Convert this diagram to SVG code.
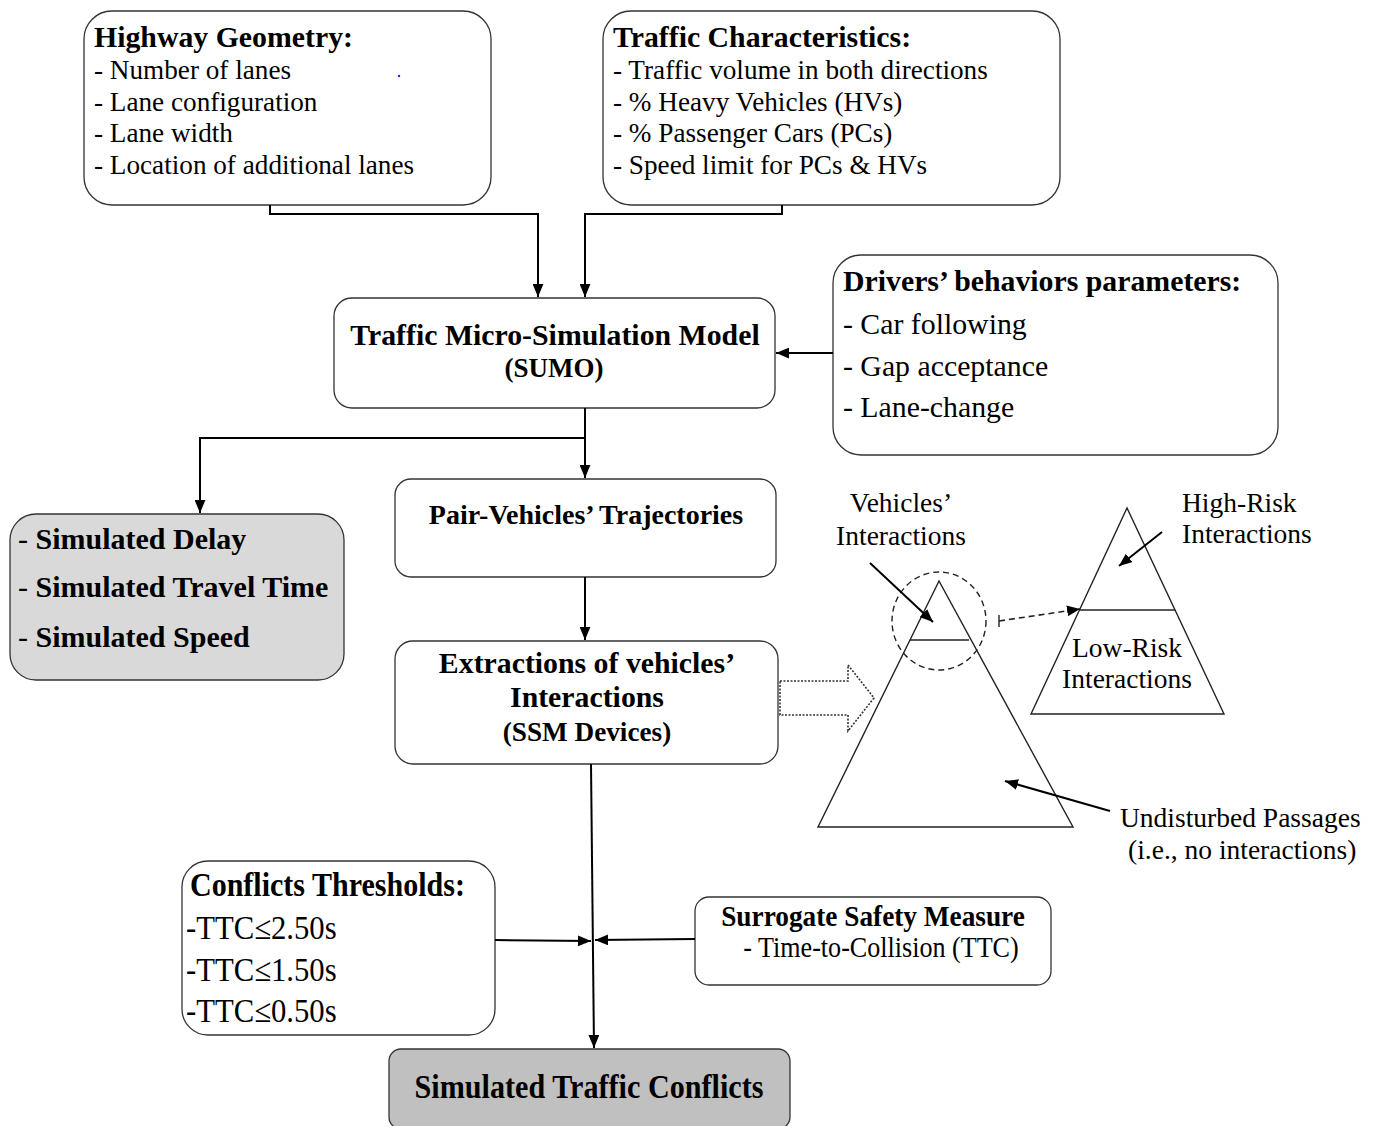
<svg xmlns="http://www.w3.org/2000/svg" width="1375" height="1126" viewBox="0 0 1375 1126">
<style>
text{font-family:"Liberation Serif","Times New Roman",serif;fill:#000}
.b{font-weight:bold}
.box{fill:#fff;stroke:#333;stroke-width:1.3}
.ln{fill:none;stroke:#000;stroke-width:2}
.tl{fill:none;stroke:#222;stroke-width:1.4}
.c{text-anchor:middle}
.lb{font-size:27.5px}
</style>
<defs>
<marker id="ah2" viewBox="0 0 12 10" refX="12" refY="5" markerWidth="13" markerHeight="11" markerUnits="userSpaceOnUse" orient="auto">
<path d="M0,0 L12,5 L0,10 z" fill="#000"/>
</marker>
</defs>

<g id="highway">
<rect class="box" x="84" y="11" width="407" height="194" rx="28"/>
<text class="b" x="94" y="47" font-size="29.8">Highway Geometry:</text>
<text x="94" y="79" font-size="27.2">- Number of lanes</text>
<text x="94" y="111" font-size="27.2">- Lane configuration</text>
<text x="94" y="142" font-size="27.2">- Lane width</text>
<text x="94" y="174" font-size="27.2">- Location of additional lanes</text>
<circle cx="399" cy="76" r="1.2" fill="#2020ff"/>
</g>

<g id="traffic">
<rect class="box" x="603" y="11" width="457" height="194" rx="28"/>
<text class="b" x="613" y="47" font-size="29.8">Traffic Characteristics:</text>
<text x="613" y="79" font-size="27.2">- Traffic volume in both directions</text>
<text x="613" y="111" font-size="27.2">- % Heavy Vehicles (HVs)</text>
<text x="613" y="142" font-size="27.2">- % Passenger Cars (PCs)</text>
<text x="613" y="174" font-size="27.2">- Speed limit for PCs &amp; HVs</text>
</g>

<g id="sumo">
<rect class="box" x="334" y="298" width="441" height="110" rx="18"/>
<text class="b c" x="555" y="345" font-size="29.8">Traffic Micro-Simulation Model</text>
<text class="b c" x="554" y="377" font-size="27">(SUMO)</text>
</g>

<g id="drivers">
<rect class="box" x="833" y="255" width="445" height="200" rx="28"/>
<text class="b" x="843" y="291" font-size="29.8">Drivers’ behaviors parameters:</text>
<text x="843" y="334" font-size="29.8">- Car following</text>
<text x="843" y="376" font-size="29.8">- Gap acceptance</text>
<text x="843" y="417" font-size="29.8">- Lane-change</text>
</g>

<g id="outputs">
<rect x="10" y="514" width="334" height="166" rx="26" fill="#d9d9d9" stroke="#333" stroke-width="1.3"/>
<text x="18" y="549" font-size="30"><tspan>- </tspan><tspan class="b">Simulated Delay</tspan></text>
<text x="18" y="597" font-size="30"><tspan>- </tspan><tspan class="b">Simulated Travel Time</tspan></text>
<text x="18" y="647" font-size="30"><tspan>- </tspan><tspan class="b">Simulated Speed</tspan></text>
</g>

<g id="pair">
<rect class="box" x="395" y="479" width="381" height="98" rx="16"/>
<text class="b c" x="586" y="524" font-size="28">Pair-Vehicles’ Trajectories</text>
</g>

<g id="extract">
<rect class="box" x="395" y="641" width="383" height="123" rx="18"/>
<text class="b c" x="587" y="673" font-size="29.8">Extractions of vehicles’</text>
<text class="b c" x="587" y="707" font-size="29.8">Interactions</text>
<text class="b c" x="587" y="741" font-size="27.2">(SSM Devices)</text>
</g>

<g id="thresholds">
<rect class="box" x="182" y="861" width="313" height="174" rx="26"/>
<text class="b" transform="translate(190,896) scale(0.91,1)" font-size="33">Conflicts Thresholds:</text>
<text transform="translate(186,939) scale(0.93,1)" font-size="33">-TTC≤2.50s</text>
<text transform="translate(186,981) scale(0.93,1)" font-size="33">-TTC≤1.50s</text>
<text transform="translate(186,1022) scale(0.93,1)" font-size="33">-TTC≤0.50s</text>
</g>

<g id="ssm">
<rect class="box" x="695" y="897" width="356" height="88" rx="14"/>
<text class="b c" transform="translate(873,926) scale(0.91,1)" font-size="30">Surrogate Safety Measure</text>
<text class="c" transform="translate(881,957) scale(0.9,1)" font-size="29">- Time-to-Collision (TTC)</text>
</g>

<g id="conflicts">
<rect x="389" y="1049" width="401" height="80" rx="12" fill="#c0c0c0" stroke="#333" stroke-width="1.3"/>
<text class="b c" transform="translate(589,1098) scale(0.9,1)" font-size="33.5">Simulated Traffic Conflicts</text>
</g>

<g id="pyramid">
<polygon class="tl" points="939,581 818,827 1073,827"/>
<line class="tl" x1="910" y1="640" x2="969" y2="640"/>
<ellipse cx="939" cy="621" rx="47" ry="49" fill="none" stroke="#222" stroke-width="1.4" stroke-dasharray="6,4"/>
<polygon class="tl" points="1127,508 1031,714 1224,714"/>
<line class="tl" x1="1079" y1="610" x2="1175" y2="610"/>
<text class="c lb" x="901" y="512">Vehicles’</text>
<text class="c lb" x="901" y="545">Interactions</text>
<text class="lb" x="1182" y="512">High-Risk</text>
<text class="lb" x="1182" y="543">Interactions</text>
<text class="c lb" x="1127" y="657">Low-Risk</text>
<text class="c lb" x="1127" y="688">Interactions</text>
<text class="lb" x="1120" y="827">Undisturbed Passages</text>
<text class="lb" x="1128" y="859">(i.e., no interactions)</text>
<polygon points="780,681 848,681 848,665 874,698 848,731 848,715 780,715" fill="none" stroke="#333" stroke-width="1.6" stroke-dasharray="2,1.5"/>
</g>

<g id="connectors">
<polyline class="ln" points="270,205 270,214 538,214 538,297" marker-end="url(#ah2)"/>
<polyline class="ln" points="782,205 782,214 585,214 585,297" marker-end="url(#ah2)"/>
<line class="ln" x1="833" y1="353" x2="776" y2="353" marker-end="url(#ah2)"/>
<polyline class="ln" points="585,408 585,438 200,438 200,513" marker-end="url(#ah2)"/>
<line class="ln" x1="585" y1="438" x2="585" y2="478" marker-end="url(#ah2)"/>
<line class="ln" x1="585" y1="577" x2="585" y2="640" marker-end="url(#ah2)"/>
<line class="ln" x1="591" y1="764" x2="594" y2="1048" marker-end="url(#ah2)"/>
<line class="ln" x1="495" y1="940" x2="591" y2="941" marker-end="url(#ah2)"/>
<line class="ln" x1="695" y1="939" x2="595" y2="940" marker-end="url(#ah2)"/>
<line class="ln" x1="870" y1="563" x2="933" y2="622" stroke-width="2.2" marker-end="url(#ah2)"/>
<line class="ln" x1="1162" y1="532" x2="1119" y2="566" stroke-width="2.2" marker-end="url(#ah2)"/>
<line class="ln" x1="1110" y1="811" x2="1005" y2="781" stroke-width="3" marker-end="url(#ah2)"/>
<line x1="999" y1="621" x2="1080" y2="609" stroke="#222" stroke-width="1.6" stroke-dasharray="6,4" marker-end="url(#ah2)"/>
<line x1="999" y1="615" x2="999" y2="627" stroke="#222" stroke-width="1.4"/>
</g>
</svg>
